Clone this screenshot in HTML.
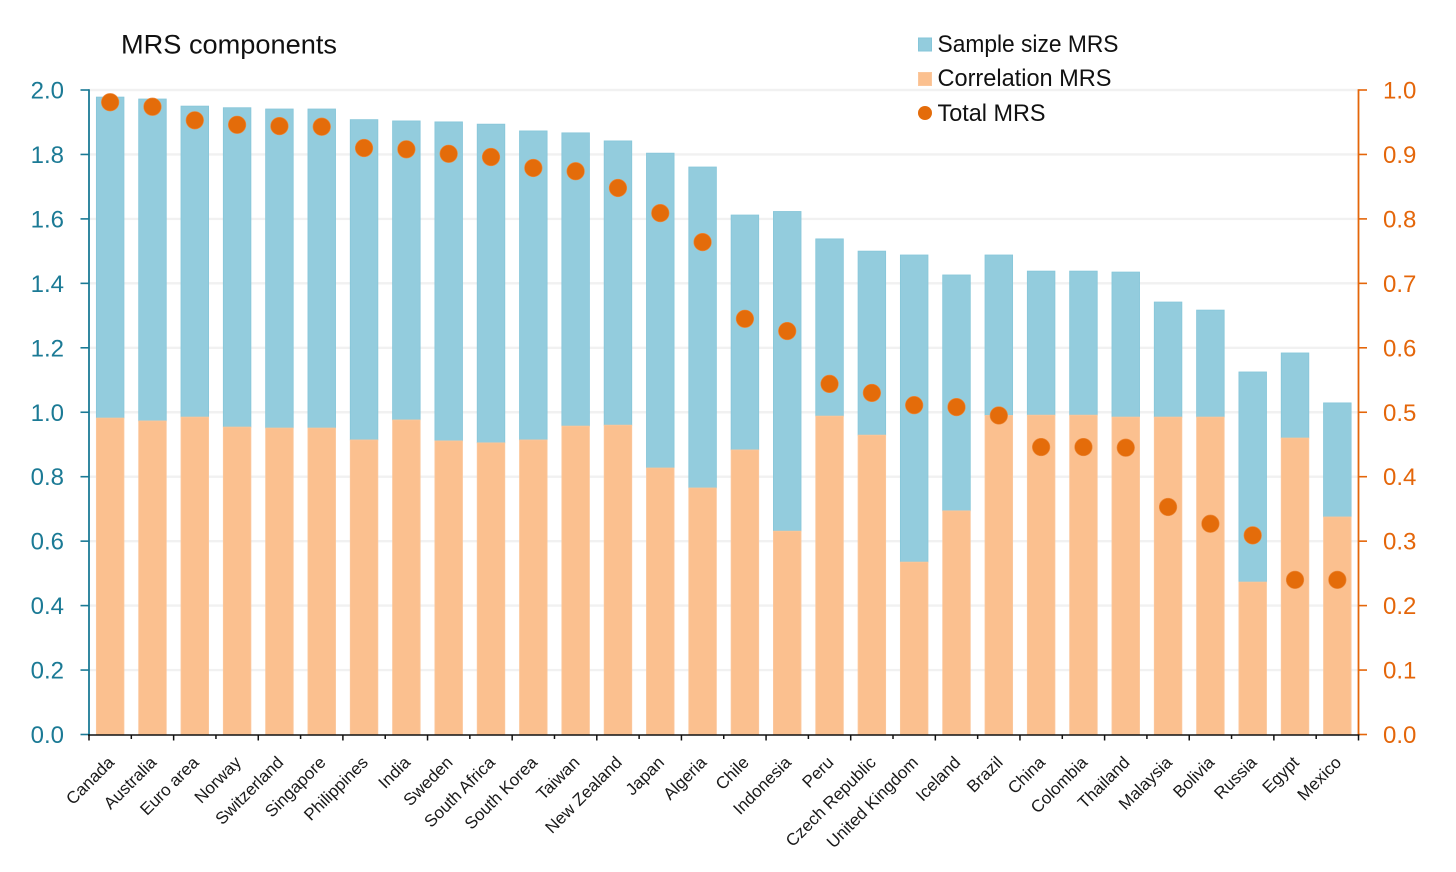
<!DOCTYPE html>
<html lang="en">
<head>
<meta charset="utf-8">
<title>MRS components</title>
<style>
html,body{margin:0;padding:0;background:#fff;}
svg{display:block;font-family:"Liberation Sans",sans-serif;}
</style>
</head>
<body>
<svg id="chart" width="1456" height="872" viewBox="0 0 1456 872" xmlns="http://www.w3.org/2000/svg">
  <rect width="1456" height="872" fill="#ffffff"/>
  <g id="grid"></g>
  <g id="bars"></g>
  <g id="dots"></g>
  <g id="axisL"></g>
  <g id="axisR"></g>
  <g id="axisX"></g>
  <text x="121" y="53.5" font-size="27" fill="#111111" textLength="216" lengthAdjust="spacingAndGlyphs">MRS components</text>
  <g>
    <g>
      <rect x="918.5" y="38" width="13" height="13" fill="#93ccdd" stroke="#86c6d9" stroke-width="1"/>
      <text x="937.5" y="52" font-size="24" fill="#111111" textLength="181" lengthAdjust="spacingAndGlyphs">Sample size MRS</text>
    </g>
    <g>
      <rect x="918.5" y="72.5" width="13" height="13" fill="#fbc08f" stroke="#fbc79c" stroke-width="1"/>
      <text x="937.5" y="86" font-size="24" fill="#111111" textLength="174" lengthAdjust="spacingAndGlyphs">Correlation MRS</text>
    </g>
    <g>
      <circle cx="925" cy="113" r="7" fill="#e46c0a"/>
      <text x="937.5" y="121" font-size="24" fill="#111111" textLength="108" lengthAdjust="spacingAndGlyphs">Total MRS</text>
    </g>
  </g>
</svg>
<script>
const categories = ["Canada","Australia","Euro area","Norway","Switzerland","Singapore","Philippines","India","Sweden","South Africa","South Korea","Taiwan","New Zealand","Japan","Algeria","Chile","Indonesia","Peru","Czech Republic","United Kingdom","Iceland","Brazil","China","Colombia","Thailand","Malaysia","Bolivia","Russia","Egypt","Mexico"];
const correlationMRS = [0.982,0.973,0.985,0.954,0.951,0.951,0.914,0.976,0.911,0.905,0.914,0.957,0.960,0.827,0.765,0.883,0.631,0.988,0.929,0.535,0.694,0.990,0.991,0.991,0.985,0.985,0.985,0.473,0.920,0.675];
const sampleSizeMRS = [0.996,0.999,0.965,0.991,0.990,0.990,0.994,0.928,0.990,0.989,0.959,0.910,0.882,0.977,0.996,0.729,0.992,0.550,0.571,0.953,0.732,0.498,0.447,0.447,0.450,0.357,0.332,0.652,0.264,0.354];
const totalMRS = [0.981,0.974,0.953,0.946,0.944,0.943,0.910,0.908,0.901,0.896,0.879,0.874,0.848,0.809,0.764,0.645,0.626,0.544,0.530,0.511,0.508,0.495,0.446,0.446,0.445,0.353,0.327,0.309,0.240,0.240];
const leftTicks = ["0.0","0.2","0.4","0.6","0.8","1.0","1.2","1.4","1.6","1.8","2.0"];
const rightTicks = ["0.0","0.1","0.2","0.3","0.4","0.5","0.6","0.7","0.8","0.9","1.0"];

const NS = "http://www.w3.org/2000/svg";
const plotLeft = 89, plotRight = 1358.5, plotTop = 90, plotBottom = 734.5;
const leftMax = 2, rightMax = 1;
const band = (plotRight - plotLeft) / categories.length;
const barWidth = 27.6;
const BLUE_AXIS = "#1b7a95", ORANGE_AXIS = "#e4660a";

function xCenter(i) { return plotLeft + band * (i + 0.5); }
function yLeft(v) { return plotBottom - (v / leftMax) * (plotBottom - plotTop); }
function yRight(v) { return plotBottom - (v / rightMax) * (plotBottom - plotTop); }
function mk(tag, attrs, parent) {
  const el = document.createElementNS(NS, tag);
  for (const k in attrs) el.setAttribute(k, attrs[k]);
  parent.appendChild(el);
  return el;
}

const gGrid = document.getElementById("grid");
const gBars = document.getElementById("bars");
const gDots = document.getElementById("dots");
const gL = document.getElementById("axisL");
const gR = document.getElementById("axisR");
const gX = document.getElementById("axisX");

leftTicks.forEach(function (t) {
  const v = parseFloat(t);
  const y = yLeft(v);
  if (v > 0) {
    const g = mk("line", {x1: plotLeft, x2: plotRight, y1: y, y2: y, stroke: "#f1f1f1", "stroke-width": 2.4}, gGrid);
    
    
  }
  const tick = mk("line", {x1: plotLeft - 8.5, x2: plotLeft, y1: y, y2: y, stroke: BLUE_AXIS, "stroke-width": 1.6}, gL);
  
  
  const label = mk("text", {x: 64, y: y + 8.5, "text-anchor": "end", "font-size": 24, fill: BLUE_AXIS}, gL);
  
  
  label.textContent = t;
});
const leftLine = mk("line", {x1: plotLeft, x2: plotLeft, y1: plotTop - 0.8, y2: plotBottom + 1, stroke: BLUE_AXIS, "stroke-width": 1.8}, gL);



rightTicks.forEach(function (t) {
  const v = parseFloat(t);
  const y = yRight(v);
  const tick = mk("line", {x1: plotRight, x2: plotRight + 8.5, y1: y, y2: y, stroke: ORANGE_AXIS, "stroke-width": 1.6}, gR);
  
  
  const label = mk("text", {x: 1383, y: y + 8.5, "font-size": 24, fill: ORANGE_AXIS}, gR);
  
  
  label.textContent = t;
});
const rightLine = mk("line", {x1: plotRight, x2: plotRight, y1: plotTop - 0.8, y2: plotBottom + 1, stroke: ORANGE_AXIS, "stroke-width": 1.8}, gR);



categories.forEach(function (c, i) {
  const cx = xCenter(i);
  const yCorr = yLeft(correlationMRS[i]);
  const yTop = yLeft(correlationMRS[i] + sampleSizeMRS[i]);
  const barS = mk("rect", {x: cx - barWidth / 2, y: yTop, width: barWidth, height: yCorr - yTop, fill: "#93ccdd", stroke: "#86c6d9", "stroke-width": 0.8}, gBars);
  
  
  const barC = mk("rect", {x: cx - barWidth / 2, y: yCorr, width: barWidth, height: plotBottom - yCorr, fill: "#fbc08f", stroke: "#fbc79c", "stroke-width": 0.8}, gBars);
  
  
  const dot = mk("circle", {cx: cx, cy: yRight(totalMRS[i]), r: 8.8, fill: "#e46c0a", stroke: "#ee8a3c", "stroke-width": 0.6}, gDots);
  
  
  const ax = cx - 3.5, ay = 755;
  const label = mk("text", {x: ax, y: ay, "text-anchor": "end", "font-size": 17, fill: "#1a1a1a", transform: "rotate(-45 " + ax + " " + ay + ")", "dominant-baseline": "hanging"}, gX);
  
  
  label.textContent = c;
});

const xLine = mk("line", {x1: plotLeft - 1, x2: plotRight + 1, y1: plotBottom + 0.5, y2: plotBottom + 0.5, stroke: "#111111", "stroke-width": 1.6}, gX);


for (let i = 0; i <= categories.length; i++) {
  const x = plotLeft + band * i;
  const tick = mk("line", {x1: x, x2: x, y1: plotBottom, y2: plotBottom + (i % 2 ? 4.5 : 6), stroke: "#111111", "stroke-width": 1.5}, gX);
  
  
}
</script>
</body>
</html>
